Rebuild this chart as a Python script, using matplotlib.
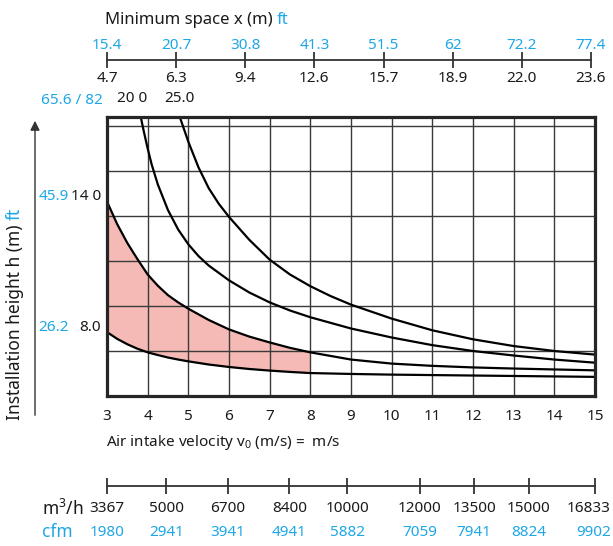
import numpy as np
import matplotlib
matplotlib.use('Agg')
import matplotlib.pyplot as plt

plt.rcParams['font.family'] = ['Noto Sans', 'DejaVu Sans']
plt.rcParams['mathtext.fontset'] = 'custom'
plt.rcParams['mathtext.rm'] = 'Noto Sans'
plt.rcParams['mathtext.default'] = 'regular'

# installation height curves, h read against air intake velocity v0 (m/s)
v_low = [3, 3.25, 3.5, 3.75, 4, 4.25, 4.5, 4.75, 5, 5.5, 6, 6.5, 7, 7.5, 8,
         9, 10, 11, 12, 13, 14, 15]
h_8 = [1.42, 1.27, 1.15, 1.05, 0.97, 0.91, 0.855, 0.81, 0.77, 0.70, 0.645, 0.60,
       0.565, 0.535, 0.51, 0.49, 0.475, 0.465, 0.455, 0.445, 0.435, 0.425]
h_14 = [4.32, 3.82, 3.40, 3.04, 2.70, 2.45, 2.24, 2.08, 1.94, 1.69, 1.48, 1.32,
        1.19, 1.07, 0.97, 0.81, 0.72, 0.67, 0.635, 0.61, 0.59, 0.57]
v_20 = [3.83, 3.9, 4.0, 4.1, 4.25, 4.5, 4.75, 5, 5.25, 5.5, 6, 6.5, 7, 7.5, 8,
        9, 10, 11, 12, 13, 14, 15]
h_20 = [6.2, 5.9, 5.5, 5.14, 4.7, 4.13, 3.7, 3.37, 3.11, 2.9, 2.57, 2.30, 2.08,
        1.90, 1.75, 1.50, 1.30, 1.13, 1.0, 0.9, 0.81, 0.74]
v_25 = [4.79, 5, 5.25, 5.5, 5.75, 6, 6.5, 7, 7.5, 8, 8.5, 9, 10, 11, 12, 13, 14, 15]
h_25 = [6.2, 5.65, 5.08, 4.62, 4.27, 3.98, 3.47, 3.03, 2.70, 2.44, 2.22, 2.03,
        1.72, 1.46, 1.26, 1.11, 1.0, 0.92]
shade_limit = 8   # pink zone runs up to 8 m/s

height_m = ['8.0', '14 0', '20 0', '25.0']
height_ft = ['26.2', '45.9', '65.6 / 82']

velocity_ticks = list(range(3, 16))

space_m = ['4.7', '6.3', '9.4', '12.6', '15.7', '18.9', '22.0', '23.6']
space_ft = ['15.4', '20.7', '30.8', '41.3', '51.5', '62', '72.2', '77.4']

flow_m3h = [3367, 5000, 6700, 8400, 10000, 12000, 13500, 15000, 16833]
flow_cfm = [1980, 2941, 3941, 4941, 5882, 7059, 7941, 8824, 9902]

BLUE = '#1ea7e6'
INK = '#1a1a1a'
GRID = '#3a3a3a'
PINK = '#f5b9b6'
FS = 11

W, H = 613, 546


def fx(px):
    return px / W


def fy(py):
    return 1 - py / H


fig = plt.figure(figsize=(W / 100, H / 100), dpi=100)
L, R = fx(107), fx(595)

ax = fig.add_axes([L, fy(396), R - L, fy(117) - fy(396)])
ax.set_xlim(3, 15)
ax.set_ylim(0, 6.2)
ax.set_xticks(velocity_ticks)
ax.set_yticks(range(1, 7))
ax.set_axisbelow(True)
ax.grid(True, color=GRID, lw=1.0)
ax.tick_params(length=0, labelleft=False, pad=9, labelsize=FS, labelcolor=INK)
for sp in ax.spines.values():
    sp.set_linewidth(2.3)
    sp.set_color('#262626')

v = np.array(v_low)
ax.fill_between(v, h_8, h_14, where=v <= shade_limit, color=PINK, lw=0, zorder=0.2)
for xs, ys in [(v_low, h_8), (v_low, h_14), (v_20, h_20), (v_25, h_25)]:
    ax.plot(xs, ys, color='black', lw=1.6, solid_joinstyle='round', zorder=2)


def label(txt, xy, dx, dy, color=INK, ha='right'):
    ax.annotate(txt, xy=xy, xytext=(dx, dy), textcoords='offset pixels',
                ha=ha, va='center', fontsize=FS, color=color, annotation_clip=False)


# curve labels: metres in black, feet in blue
label(height_m[0], (3, h_8[0]), -6, 5)
label(height_m[1], (3, h_14[0]), -6, 5)
label(height_m[2], (v_20[0], h_20[0]), -9, 18, ha='center')
label(height_m[3], (v_25[0], h_25[0]), 0, 18, ha='center')
label(height_ft[0], (3, h_8[0]), -38, 5, color=BLUE)
label(height_ft[1], (3, h_14[0]), -38, 5, color=BLUE)
fig.text(fx(103), fy(100), height_ft[2], ha='right', va='center', fontsize=FS, color=BLUE)


def scale_axis(y_px, positions, end):
    sx = fig.add_axes([L, fy(y_px), R - L, 1e-4])
    sx.set_xlim(3, 15)
    sx.set_ylim(0, 1)
    sx.patch.set_visible(False)
    for s in ['top', 'left', 'right']:
        sx.spines[s].set_visible(False)
    sx.spines['bottom'].set_bounds(3, end)
    sx.spines['bottom'].set_linewidth(1.3)
    sx.spines['bottom'].set_color('#333333')
    sx.set_xticks(positions)
    sx.set_xticklabels([])
    sx.set_yticks([])
    sx.tick_params(axis='x', direction='inout', length=11, width=1.3, color='#333333')
    return sx


def scale_labels(sx, positions, labels, dy, color, last_right=False):
    n = len(labels)
    for i, (p, t) in enumerate(zip(positions, labels)):
        ha, dx = 'center', 0
        if last_right and i == n - 1:
            ha, dx = 'right', 16
        sx.annotate(t, xy=(p, 0), xycoords=('data', 'axes fraction'), xytext=(dx, dy),
                    textcoords='offset pixels', ha=ha, va='center',
                    fontsize=FS, color=color, annotation_clip=False)


# minimum space scale along the top
space_pos = np.linspace(3, 14.9, len(space_m))
top = scale_axis(60, space_pos, space_pos[-1])
scale_labels(top, space_pos, space_ft, 15, BLUE)
scale_labels(top, space_pos, space_m, -18, INK)

# air volume scale along the bottom, 16833 m3/h at 15 m/s
flow_pos = np.array(flow_m3h) / (flow_m3h[-1] / velocity_ticks[-1])
bot = scale_axis(486, flow_pos, flow_pos[-1])
scale_labels(bot, flow_pos, [str(f) for f in flow_m3h], -23, INK, last_right=True)
scale_labels(bot, flow_pos, [str(f) for f in flow_cfm], -46, BLUE, last_right=True)
fig.text(fx(42), fy(509), 'm$^3$/h', ha='left', va='center', fontsize=12.5, color=INK)
fig.text(fx(42), fy(532), 'cfm', ha='left', va='center', fontsize=12.5, color=BLUE)

fig.text(fx(106), fy(442), 'Air intake velocity v$_0$ (m/s) =  m/s',
         ha='left', va='center', fontsize=FS, color=INK)

renderer = fig.canvas.get_renderer()

# title, with the unit in blue right after it
t1 = fig.text(fx(105), fy(24), 'Minimum space x (m) ', ha='left', va='baseline',
              fontsize=12, color=INK)
bb = t1.get_window_extent(renderer)
fig.text(bb.x1 / W, fy(24), 'ft', ha='left', va='baseline', fontsize=12, color=BLUE)

# rotated y label
y1 = fig.text(fx(20), fy(420), 'Installation height h (m) ', rotation=90,
              rotation_mode='anchor', ha='left', va='baseline', fontsize=12.5, color=INK)
bb = y1.get_window_extent(renderer)
fig.text(fx(20), bb.y1 / H, 'ft', rotation=90, rotation_mode='anchor',
         ha='left', va='baseline', fontsize=12.5, color=BLUE)

# height arrow
fig.add_artist(matplotlib.patches.FancyArrowPatch(
    (fx(35), fy(418)), (fx(35), fy(118)), transform=fig.transFigure,
    arrowstyle='-|>', mutation_scale=14, color='#333333', lw=1.0))

fig.savefig('out.png', dpi=100)
